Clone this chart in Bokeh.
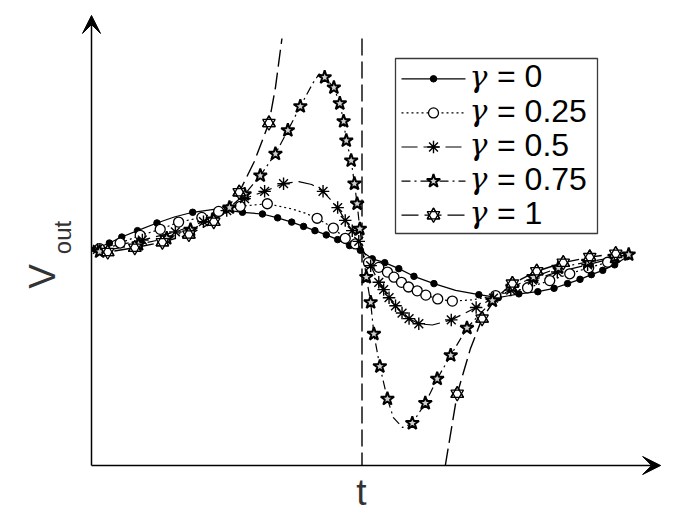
import math
from bokeh.plotting import figure
from bokeh.models import Range1d, Arrow, VeeHead
from bokeh.core.properties import value
from bokeh.embed import file_html
from bokeh.resources import INLINE

# ---------------- data (t and V in arbitrary units) -------------
gamma_labels = ["0", "0.25", "0.5", "0.75", "1"]

# gamma = 0 : markers and extra points of the drawn curve
g0_t = [0.07, 0.33, 0.56, 0.85, 1.21, 1.87, 2.79, 3.16, 3.44, 3.70, 3.92, 4.13, 4.34, 4.55, 4.77,
        4.97, 5.19, 5.42, 5.68, 5.96, 6.33, 7.16, 7.52, 7.90, 8.25, 8.55, 8.80, 9.03, 9.24, 9.45,
        9.67, 9.90]
g0_v = [5.07, 5.21, 5.35, 5.50, 5.68, 5.93, 5.93, 5.89, 5.80, 5.70, 5.60, 5.50, 5.40, 5.29, 5.15,
        5.04, 4.84, 4.75, 4.61, 4.43, 4.26, 4.00, 3.93, 4.02, 4.07, 4.15, 4.26, 4.36, 4.47, 4.57,
        4.70, 4.89]
g0_curve_t = [0.0, 1.53, 2.33, 6.73, 10.0]
g0_curve_v = [5.03, 5.82, 6.01, 4.10, 4.99]

# gamma = 0.25
g25_t = [0.15, 0.53, 0.90, 1.27, 1.61, 2.04, 2.35, 2.75, 3.25, 4.17, 4.47, 4.69, 4.88, 5.12, 5.31,
         5.47, 5.59, 5.73, 5.86, 6.02, 6.18, 6.40, 6.67, 7.47, 8.06, 8.47, 8.84, 9.19, 9.54]
g25_v = [5.08, 5.21, 5.39, 5.53, 5.70, 5.81, 5.95, 6.07, 6.13, 5.79, 5.56, 5.32, 5.19, 4.75, 4.64,
         4.53, 4.41, 4.29, 4.18, 4.09, 3.99, 3.90, 3.85, 3.98, 4.16, 4.33, 4.49, 4.63, 4.76]
g25_curve_t = [0.0, 3.70, 3.95, 7.04, 10.0]
g25_curve_v = [5.03, 6.01, 5.91, 3.88, 4.99]

# gamma = 0.5
g50_t = [0.11, 0.94, 1.55, 2.07, 2.50, 2.83, 3.20, 3.55, 4.28, 4.55, 4.69, 4.82, 4.94, 5.16, 5.31,
         5.40, 5.50, 5.62, 5.74, 5.87, 6.05, 6.65, 7.11, 7.43, 7.75, 8.15, 8.61, 9.17, 9.69]
g50_v = [5.06, 5.28, 5.47, 5.71, 5.97, 6.25, 6.42, 6.60, 6.42, 6.04, 5.74, 5.50, 5.25, 4.68, 4.29,
         4.12, 3.93, 3.74, 3.57, 3.44, 3.32, 3.41, 3.70, 3.92, 4.11, 4.34, 4.53, 4.70, 4.87]
g50_curve_t = [0.0, 3.83, 4.07, 6.30, 10.0]
g50_curve_v = [5.03, 6.65, 6.58, 3.29, 4.99]

# gamma = 0.75
g75_t = [0.15, 0.87, 1.39, 1.83, 2.24, 2.55, 2.83, 3.12, 3.40, 3.63, 3.86, 4.31, 4.48, 4.59, 4.66,
         4.71, 4.80, 4.86, 4.91, 4.96, 5.08, 5.16, 5.22, 5.33, 5.47, 5.93, 6.17, 6.39, 6.64, 6.94,
         7.41, 7.78, 8.17, 8.63, 9.18, 9.67, 9.93]
g75_v = [5.01, 5.18, 5.32, 5.52, 5.76, 6.04, 6.35, 6.79, 7.30, 7.85, 8.41, 9.09, 8.85, 8.48, 8.06,
         7.61, 7.14, 6.60, 6.13, 5.54, 4.41, 3.82, 3.08, 2.32, 1.56, 0.99, 1.46, 2.03, 2.58, 3.22,
         3.86, 4.18, 4.41, 4.63, 4.77, 4.88, 4.94]
g75_curve_t = [0.0, 4.09, 4.21, 5.58, 5.75, 10.0]
g75_curve_v = [5.03, 8.95, 9.17, 1.12, 0.89, 4.99]

# gamma = 1 (leaves the visible window above and below; jump at t = 5)
g100_t = [0.30, 0.80, 1.31, 1.80, 2.26, 2.73, 3.28, 6.76, 7.22, 7.78, 8.23, 8.72, 9.21, 9.69]
g100_v = [5.00, 5.10, 5.23, 5.41, 5.71, 6.40, 8.02, 1.68, 3.44, 4.26, 4.55, 4.75, 4.88, 4.96]
g100_before_t = [0.0, 2.48, 3.01, 3.40, 3.52]
g100_before_v = [5.03, 5.98, 7.12, 8.85, 10.0]
g100_jump_t = [5.0, 5.0]
g100_jump_v = [10.0, 0.0]
g100_after_t = [6.54, 7.00, 7.48, 10.0]
g100_after_v = [0.0, 2.72, 3.93, 4.99]

# axis extents (arrow tips)
t_axis_end = 10.52
v_axis_end = 10.54


def merged(mt, mv, ct, cv):
    pts = sorted(zip(list(mt) + list(ct), list(mv) + list(cv)))
    return [a for a, _ in pts], [b for _, b in pts]


# ---------------- figure -------------------------------------------------------------
W, H = 698, 523
OX, OY = 91.0, 465.0          # pixel position of the origin
SX, SY = 54.1, 42.7           # pixels per unit
p = figure(width=W, height=H,
           x_range=Range1d(-OX / SX, (W - OX) / SX),
           y_range=Range1d(-(H - OY) / SY, OY / SY),
           min_border=0, x_axis_location=None, y_axis_location=None,
           toolbar_location=None, output_backend="svg")
p.outline_line_color = None
p.background_fill_color = "white"
p.border_fill_color = "white"
p.xgrid.visible = False
p.ygrid.visible = False
p.extra_x_ranges = {"px": Range1d(0, W)}
p.extra_y_ranges = {"px": Range1d(H, 0)}
PX = dict(x_range_name="px", y_range_name="px")

styles = ["solid", "2 3", "16 6", "9 4 2 4", "17 6"]
LW = 1.2

# ---- curves
lx, ly = merged(g0_t, g0_v, g0_curve_t, g0_curve_v)
p.line(lx, ly, line_color="black", line_width=LW, line_dash=styles[0])
lx, ly = merged(g25_t, g25_v, g25_curve_t, g25_curve_v)
p.line(lx, ly, line_color="black", line_width=LW, line_dash=styles[1])
lx, ly = merged(g50_t, g50_v, g50_curve_t, g50_curve_v)
p.line(lx, ly, line_color="black", line_width=LW, line_dash=styles[2])
lx, ly = merged(g75_t, g75_v, g75_curve_t, g75_curve_v)
p.line(lx, ly, line_color="black", line_width=LW, line_dash=styles[3])

b_t = [t for t in g100_t if t < 5]
b_v = [v for t, v in zip(g100_t, g100_v) if t < 5]
a_t = [t for t in g100_t if t > 5]
a_v = [v for t, v in zip(g100_t, g100_v) if t > 5]
x1, y1 = merged(b_t, b_v, g100_before_t, g100_before_v)
x3, y3 = merged(a_t, a_v, g100_after_t, g100_after_v)
nan = float("nan")
p.line(x1 + [nan] + g100_jump_t + [nan] + x3, y1 + [nan] + g100_jump_v + [nan] + y3,
       line_color="black", line_width=1.4, line_dash=styles[4])


# ---- markers
def draw_markers(xs, ys, k, **extra):
    if k == 0:
        p.scatter(xs, ys, marker="circle", size=6.5, fill_color="black", line_color="black", **extra)
    elif k == 1:
        p.scatter(xs, ys, marker="circle", size=10, fill_color="white", line_color="black",
                  line_width=1.3, **extra)
    elif k == 2:
        p.scatter(xs, ys, marker="asterisk", size=12.5, line_color="black", line_width=1.4, **extra)
    elif k == 3:
        p.scatter(xs, ys, marker="star", size=14, fill_color="#cfcfcf", line_color="black",
                  line_width=2, **extra)
    else:
        p.scatter(xs, ys, marker="triangle", size=12.5, fill_color="white", line_color="black",
                  line_width=1.3, **extra)
        p.scatter(xs, ys, marker="inverted_triangle", size=12.5, fill_color="white",
                  line_color="black", line_width=1.3, **extra)
        p.scatter(xs, ys, marker="triangle", size=12.5, fill_color=None, line_color="black",
                  line_width=1.3, **extra)


draw_markers(g0_t, g0_v, 0)
draw_markers(g25_t, g25_v, 1)
draw_markers(g50_t, g50_v, 2)
draw_markers(g75_t, g75_v, 3)
draw_markers(g100_t, g100_v, 4)

# ---- axes with arrow heads
p.add_layout(Arrow(x_start=0, y_start=0, x_end=t_axis_end, y_end=0, line_width=1.5,
                   line_color="black",
                   end=VeeHead(size=18, fill_color="black", line_color="black", line_width=1)))
p.add_layout(Arrow(x_start=0, y_start=0, x_end=0, y_end=v_axis_end, line_width=1.5,
                   line_color="black",
                   end=VeeHead(size=18, fill_color="black", line_color="black", line_width=1)))

# ---- axis labels
p.text(x=[42], y=[276], text=["V"], angle=math.pi / 2, text_align="center",
       text_baseline="middle", text_font=value("Liberation Sans"), text_font_size="37px",
       text_color="#333333", **PX)
p.text(x=[62], y=[237], text=["out"], angle=math.pi / 2, text_align="center",
       text_baseline="middle", text_font=value("Liberation Sans"), text_font_size="24px",
       text_color="#333333", **PX)
p.text(x=[361], y=[492], text=["t"], text_align="center", text_baseline="middle",
       text_font=value("Liberation Sans"), text_font_size="37px", text_color="#333333", **PX)

# ---- legend (drawn by hand)
row_y = [78.3, 112.4, 146.5, 180.6, 214.7]
p.quad(left=[395], right=[597], top=[58], bottom=[233], fill_color="white",
       line_color="#3a3a3a", line_width=1.3, **PX)
for k, yy in enumerate(row_y):
    p.line([401, 465], [yy, yy], line_color="black", line_width=LW, line_dash=styles[k], **PX)
    draw_markers([433], [yy], k, **PX)
p.text(x=[469] * 5, y=[yy - 2.4 for yy in row_y], text=["γ"] * 5, text_align="left",
       text_baseline="middle", text_font=value("DejaVu Serif"), text_font_style="italic",
       text_font_size="30px", text_color="black", **PX)
p.text(x=[496.5] * 5, y=[yy - 2.4 for yy in row_y], text=["= " + g for g in gamma_labels],
       text_align="left", text_baseline="middle", text_font=value("Liberation Sans"),
       text_font_size="32px", text_color="black", **PX)

open("out.html", "w").write(file_html(p, INLINE))
